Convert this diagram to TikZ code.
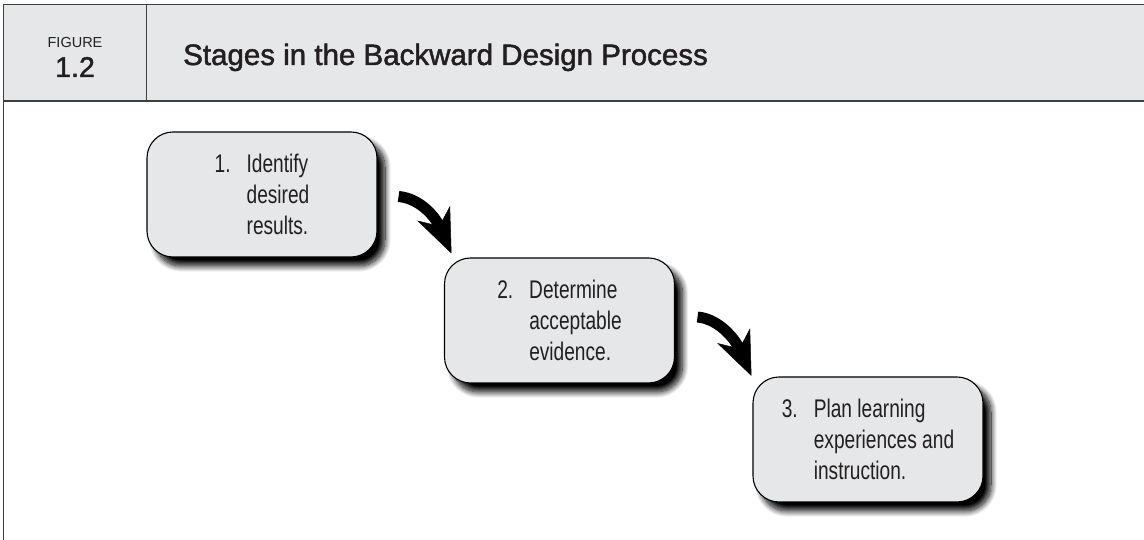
\documentclass[tikz,border=0pt]{standalone}
\usepackage{fontspec}
\setmainfont{Liberation Sans}
\newfontfamily\condfont[FakeStretch=0.75]{Liberation Sans}
\newfontfamily\titlefont[FakeBold=1.6]{Liberation Sans}
\usetikzlibrary{arrows.meta,shadows.blur,calc}

\definecolor{panelgrey}{HTML}{E6E7E8}
\definecolor{rulegrey}{HTML}{3F3F3F}
\definecolor{inkgrey}{HTML}{231F20}

\tikzset{
  stagebox/.style={draw=black, line width=1.1pt, fill=panelgrey,
    rounded corners=26pt, minimum width=230pt, minimum height=125pt,
    align=left, text=inkgrey, inner sep=0pt,
    font=\condfont\fontsize{25.5}{31}\selectfont,
    blur shadow={shadow xshift=8pt, shadow yshift=-9pt,
      shadow blur radius=6pt, shadow blur steps=14, shadow opacity=100}},
  bigarrow/.style={line width=11pt, draw=black,
    -{Stealth[length=44pt, width=36pt, inset=14pt, line width=0.5pt]}},
}

%% hanging number for the stage texts
\newcommand{\stagetext}[4]{\makebox[32pt][l]{#1}#2\\\hspace*{32pt}#3\\\hspace*{32pt}#4}

\begin{document}
\begin{tikzpicture}
  \useasboundingbox (0pt,0pt) rectangle (1144pt,540pt);

  %% header
  \fill[panelgrey] (3.5pt,439pt) rectangle (1144pt,535.5pt);
  \draw[rulegrey, line width=1.6pt] (3.5pt,0pt) -- (3.5pt,535.5pt) -- (1144pt,535.5pt);
  \draw[rulegrey, line width=1.6pt] (3.5pt,439pt) -- (1144pt,439pt);
  \draw[rulegrey, line width=1.2pt] (146.5pt,439pt) -- (146.5pt,535.5pt);

  \node[anchor=base, text=inkgrey, font=\fontsize{14.5}{16}\selectfont] (figword)
    at (75pt,492pt) {FIGURE};
  \node[anchor=base, text=inkgrey, font=\titlefont\fontsize{28.5}{30}\selectfont] (fignum)
    at (75pt,463pt) {1.2};
  \node[anchor=base west, inner sep=0pt, text=inkgrey,
    font=\titlefont\fontsize{29.5}{32}\selectfont] (title)
    at (183pt,475pt) {Stages in the Backward Design Process};

  %% stages
  \node[stagebox] (s1) at (262pt,345.5pt)
    {\stagetext{1.}{Identify}{desired}{results.}};
  \node[stagebox] (s2) at (559.5pt,219.5pt)
    {\stagetext{2.}{Determine}{acceptable}{evidence.}};
  \node[stagebox] (s3) at (868pt,100.5pt)
    {\stagetext{3.}{Plan learning}{experiences and}{instruction.}};

  %% connectors
  \coordinate (a1s) at ($(s1.east)+(21pt,-2pt)$);
  \coordinate (a1e) at ($(s2.north west)+(7.5pt,4pt)$);
  \coordinate (a2s) at ($(s2.east)+(22.5pt,3.5pt)$);
  \coordinate (a2e) at ($(s3.north west)+(-1pt,0.5pt)$);

  \draw[bigarrow] (a1s) .. controls +(22pt,-2pt) and +(-16pt,36pt) .. (a1e); %% s1 -> s2
  \draw[bigarrow] (a2s) .. controls +(22pt,-2pt) and +(-16pt,36pt) .. (a2e); %% s2 -> s3

\end{tikzpicture}
\end{document}
